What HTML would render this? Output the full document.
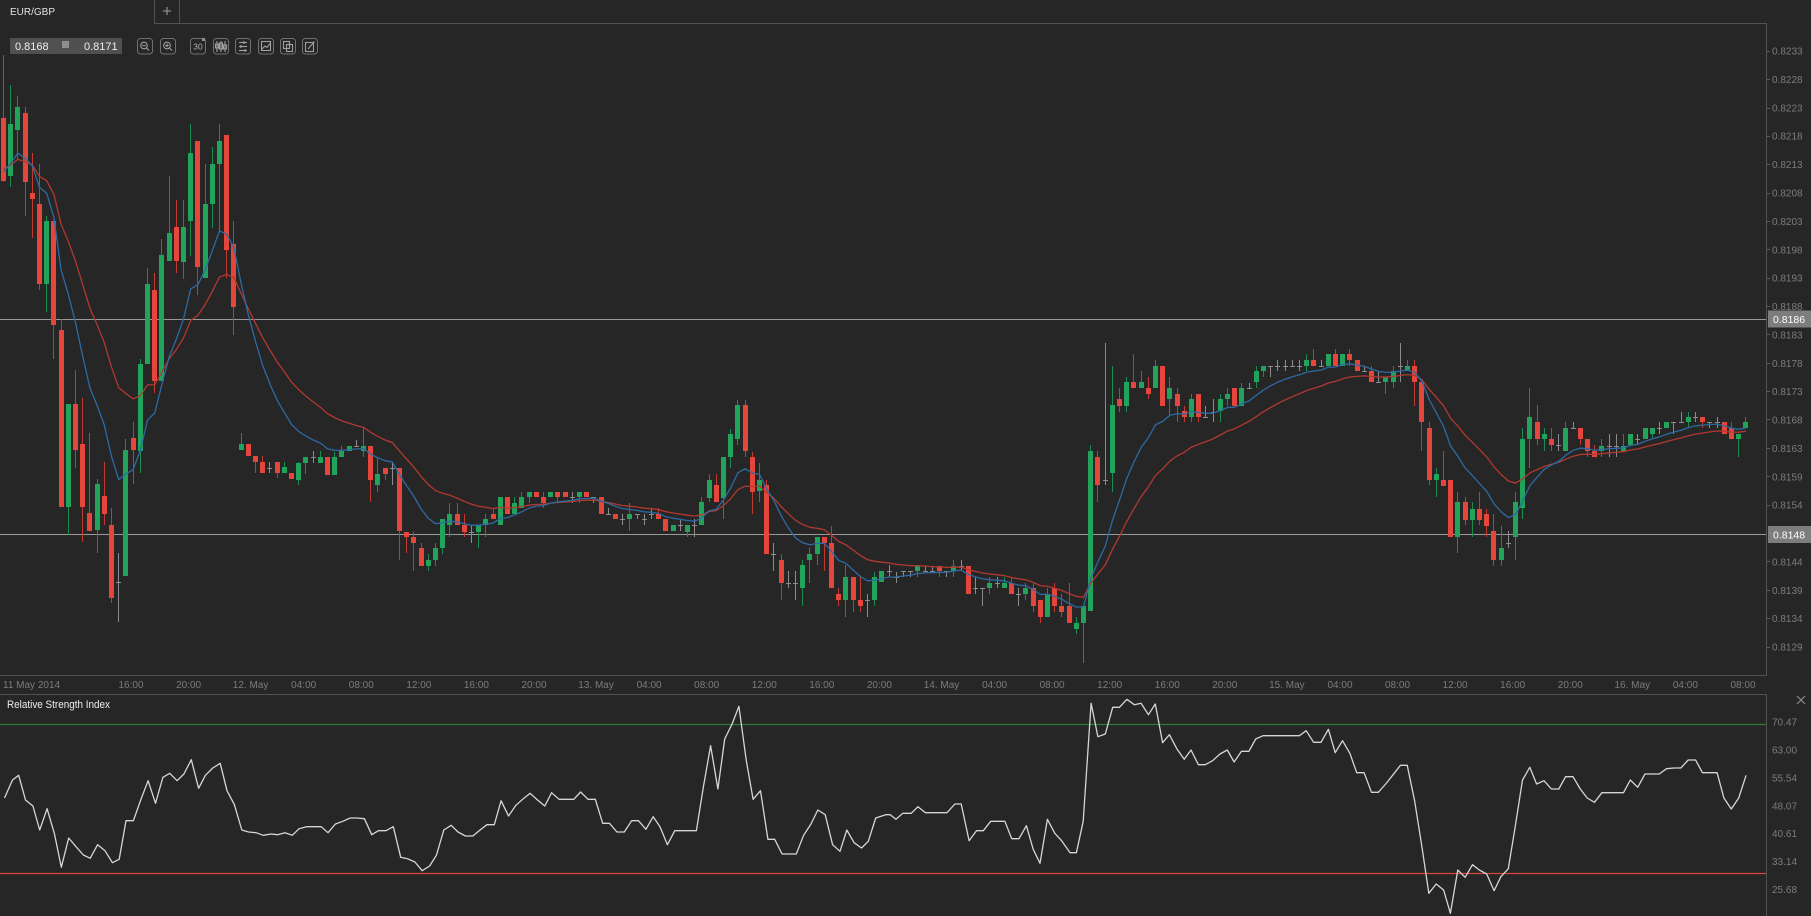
<!DOCTYPE html>
<html><head><meta charset="utf-8">
<style>
html,body{margin:0;padding:0;background:#262626;overflow:hidden;width:1811px;height:916px}
svg{display:block}
text{font-family:"Liberation Sans",Arial,sans-serif}
</style></head>
<body>
<svg id="s" width="1811" height="916" viewBox="0 0 1811 916" xmlns="http://www.w3.org/2000/svg">
<rect width="1811" height="916" fill="#262626"/>

<!-- tab bar -->
<text x="10" y="15" font-size="10" fill="#e2e2e2">EUR/GBP</text>
<line x1="154.5" y1="0" x2="154.5" y2="23" stroke="#525252"/>
<line x1="179.5" y1="0" x2="179.5" y2="23" stroke="#525252"/>
<line x1="163" y1="11" x2="171" y2="11" stroke="#8a8a8a" stroke-width="1.3"/>
<line x1="167" y1="7" x2="167" y2="15" stroke="#8a8a8a" stroke-width="1.3"/>

<!-- frames -->
<g stroke="#525252" stroke-width="1" shape-rendering="crispEdges">
<line x1="154" y1="23.5" x2="1767" y2="23.5"/>
<line x1="1766.5" y1="23" x2="1766.5" y2="676"/>
<line x1="0" y1="675.5" x2="1767" y2="675.5"/>
<line x1="0" y1="694.5" x2="1767" y2="694.5"/>
<line x1="1766.5" y1="694" x2="1766.5" y2="916"/>
</g>

<!-- horizontal price lines -->
<g stroke="#9a9a9a" stroke-width="1" shape-rendering="crispEdges">
<line x1="0" y1="319.5" x2="1766" y2="319.5"/>
<line x1="0" y1="534.5" x2="1766" y2="534.5"/>
</g>

<g id="gc" shape-rendering="crispEdges"></g>
<g id="ge" fill="none" stroke-width="1.3"></g>

<!-- price box -->
<rect x="10" y="38" width="112" height="16" fill="#505050"/>
<text x="15" y="50" font-size="11" fill="#eeeeee">0.8168</text>
<rect x="62" y="41" width="7" height="7" fill="#8e8e8e"/>
<text x="84" y="50" font-size="11" fill="#eeeeee">0.8171</text>

<!-- toolbar icons -->
<g fill="none" stroke="#707070" stroke-width="1">
<rect x="137.5" y="38.5" width="15" height="15.5" rx="3"/>
<rect x="160.5" y="38.5" width="15" height="15.5" rx="3"/>
<rect x="190.5" y="38.5" width="15" height="15.5" rx="3"/>
<rect x="213.5" y="38.5" width="15" height="15.5" rx="3"/>
<rect x="235.5" y="38.5" width="15" height="15.5" rx="3"/>
<rect x="258.5" y="38.5" width="15" height="15.5" rx="3"/>
<rect x="280.5" y="38.5" width="15" height="15.5" rx="3"/>
<rect x="302.5" y="38.5" width="15" height="15.5" rx="3"/>
</g>
<g fill="none" stroke="#a0a0a0" stroke-width="1.1">
<circle cx="144" cy="45.5" r="3.3"/><line x1="146.5" y1="48" x2="149" y2="50.5"/><line x1="142.3" y1="45.5" x2="145.7" y2="45.5"/>
<circle cx="167" cy="45.5" r="3.3"/><line x1="169.5" y1="48" x2="172" y2="50.5"/><line x1="165.3" y1="45.5" x2="168.7" y2="45.5"/><line x1="167" y1="43.8" x2="167" y2="47.2"/>
<line x1="217" y1="41" x2="217" y2="52"/><rect x="215.5" y="44" width="3" height="4"/>
<line x1="221" y1="41" x2="221" y2="52"/><rect x="219.5" y="43" width="3" height="6"/>
<line x1="225" y1="41" x2="225" y2="52"/><rect x="223.5" y="45" width="3" height="4"/>
<line x1="239" y1="42.5" x2="247" y2="42.5"/><line x1="239" y1="46.5" x2="247" y2="46.5"/><line x1="239" y1="50.5" x2="247" y2="50.5"/>
<line x1="244" y1="41" x2="244" y2="44"/><line x1="241" y1="45" x2="241" y2="48"/><line x1="245" y1="49" x2="245" y2="52"/>
<rect x="261.5" y="41.5" width="9" height="9"/><polyline points="262,49 265,46 267,47.5 270,43.5"/>
<rect x="283.5" y="41.5" width="6" height="7"/><rect x="286.5" y="44.5" width="6" height="7"/>
<rect x="305.5" y="42.5" width="8" height="9"/><line x1="308" y1="49" x2="314.5" y2="41.5"/>
</g>
<text x="198" y="49.5" font-size="8.5" fill="#b0b0b0" text-anchor="middle">30</text>
<rect x="202" y="38" width="3" height="3" fill="#909090"/>

<!-- price axis ticks -->
<g stroke="#5a5a5a" shape-rendering="crispEdges">
<line x1="1767" y1="51.5" x2="1770" y2="51.5"/><line x1="1767" y1="79.5" x2="1770" y2="79.5"/>
<line x1="1767" y1="108.5" x2="1770" y2="108.5"/><line x1="1767" y1="136.5" x2="1770" y2="136.5"/>
<line x1="1767" y1="164.5" x2="1770" y2="164.5"/><line x1="1767" y1="193.5" x2="1770" y2="193.5"/>
<line x1="1767" y1="221.5" x2="1770" y2="221.5"/><line x1="1767" y1="249.5" x2="1770" y2="249.5"/>
<line x1="1767" y1="278.5" x2="1770" y2="278.5"/><line x1="1767" y1="306.5" x2="1770" y2="306.5"/>
<line x1="1767" y1="334.5" x2="1770" y2="334.5"/><line x1="1767" y1="363.5" x2="1770" y2="363.5"/>
<line x1="1767" y1="391.5" x2="1770" y2="391.5"/><line x1="1767" y1="419.5" x2="1770" y2="419.5"/>
<line x1="1767" y1="448.5" x2="1770" y2="448.5"/><line x1="1767" y1="476.5" x2="1770" y2="476.5"/>
<line x1="1767" y1="505.5" x2="1770" y2="505.5"/><line x1="1767" y1="561.5" x2="1770" y2="561.5"/>
<line x1="1767" y1="590.5" x2="1770" y2="590.5"/><line x1="1767" y1="618.5" x2="1770" y2="618.5"/>
<line x1="1767" y1="647.5" x2="1770" y2="647.5"/>
</g>

<!-- price labels -->
<g font-size="10" fill="#7c7c7c">
<text x="1772" y="54.6">0.8233</text>
<text x="1772" y="83">0.8228</text>
<text x="1772" y="111.4">0.8223</text>
<text x="1772" y="139.7">0.8218</text>
<text x="1772" y="168.1">0.8213</text>
<text x="1772" y="196.5">0.8208</text>
<text x="1772" y="224.9">0.8203</text>
<text x="1772" y="253.3">0.8198</text>
<text x="1772" y="281.6">0.8193</text>
<text x="1772" y="310">0.8188</text>
<text x="1772" y="338.4">0.8183</text>
<text x="1772" y="366.8">0.8178</text>
<text x="1772" y="395.2">0.8173</text>
<text x="1772" y="423.5">0.8168</text>
<text x="1772" y="451.9">0.8163</text>
<text x="1772" y="480.3">0.8159</text>
<text x="1772" y="508.7">0.8154</text>
<text x="1772" y="537.1">0.8149</text>
<text x="1772" y="565.4">0.8144</text>
<text x="1772" y="593.8">0.8139</text>
<text x="1772" y="622.2">0.8134</text>
<text x="1772" y="650.6">0.8129</text>
</g>
<!-- badges -->
<rect x="1768" y="310.5" width="43" height="17" fill="#7d7d7d"/>
<text x="1773" y="323" font-size="10.5" fill="#ffffff">0.8186</text>
<rect x="1768" y="526" width="43" height="17" fill="#7d7d7d"/>
<text x="1773" y="538.5" font-size="10.5" fill="#ffffff">0.8148</text>

<!-- time axis -->
<g font-size="10" fill="#7c7c7c" text-anchor="middle">
<text x="3" y="688" text-anchor="start">11 May 2014</text>
<text x="131" y="688">16:00</text>
<text x="188.6" y="688">20:00</text>
<text x="250.6" y="688">12. May</text>
<text x="303.7" y="688">04:00</text>
<text x="361.3" y="688">08:00</text>
<text x="418.9" y="688">12:00</text>
<text x="476.4" y="688">16:00</text>
<text x="534" y="688">20:00</text>
<text x="596.1" y="688">13. May</text>
<text x="649.1" y="688">04:00</text>
<text x="706.7" y="688">08:00</text>
<text x="764.3" y="688">12:00</text>
<text x="821.8" y="688">16:00</text>
<text x="879.4" y="688">20:00</text>
<text x="941.5" y="688">14. May</text>
<text x="994.6" y="688">04:00</text>
<text x="1052.1" y="688">08:00</text>
<text x="1109.7" y="688">12:00</text>
<text x="1167.3" y="688">16:00</text>
<text x="1224.8" y="688">20:00</text>
<text x="1286.9" y="688">15. May</text>
<text x="1340" y="688">04:00</text>
<text x="1397.5" y="688">08:00</text>
<text x="1455.1" y="688">12:00</text>
<text x="1512.7" y="688">16:00</text>
<text x="1570.3" y="688">20:00</text>
<text x="1632.3" y="688">16. May</text>
<text x="1685.4" y="688">04:00</text>
<text x="1743" y="688">08:00</text>
</g>

<!-- RSI panel -->
<text x="7" y="708" font-size="11" fill="#eeeeee" textLength="103" lengthAdjust="spacingAndGlyphs">Relative Strength Index</text>
<line x1="0" y1="724.5" x2="1766" y2="724.5" stroke="#2f7a3a" stroke-width="1.2"/>
<line x1="0" y1="873.5" x2="1766" y2="873.5" stroke="#d6463a" stroke-width="1.2"/>
<g stroke="#8a8a8a" stroke-width="1.2">
<line x1="1797" y1="696" x2="1805" y2="704"/><line x1="1805" y1="696" x2="1797" y2="704"/>
</g>
<g font-size="10" fill="#7c7c7c">
<text x="1772" y="725.5">70.47</text>
<text x="1772" y="753.5">63.00</text>
<text x="1772" y="781.3">55.54</text>
<text x="1772" y="809.3">48.07</text>
<text x="1772" y="837">40.61</text>
<text x="1772" y="865">33.14</text>
<text x="1772" y="892.8">25.68</text>
</g>
<polyline id="rsi" fill="none" stroke="#d6d6d6" stroke-width="1.3" stroke-linejoin="round" points=""/>
</svg>
<script>
(function(){
var NS='http://www.w3.org/2000/svg';
var D=[118,181,55,182,176,124,85,187,130,107,96,160,113,182,107,216,193,199,153,238,204,284,164,290,284,221,216,312,221,325,221,359,330,507,319,507,507,404,404,535,
404,450,370,468,444,507,398,542,513,531,433,531,530,484,479,553,496,514,462,525,525,598,508,603,582,582,553,622,576,450,439,576,438,450,422,484,451,364,359,473,
364,284,268,364,290,381,273,393,381,255,239,381,261,233,176,261,227,261,200,273,262,227,200,279,221,153,124,256,141,267,141,295,278,204,164,278,204,164,147,228,
164,141,124,232,135,250,135,278,244,307,221,335,450,444,433,450,444,456,444,456,456,462,456,473,462,473,456,473,468,468,462,473,462,473,462,478,473,467,462,473,
473,479,473,479,480,463,462,485,463,457,457,474,457,457,451,463,463,457,451,463,457,475,457,475,475,457,452,475,457,451,446,457,451,446,446,451,446,446,440,446,
451,446,428,457,446,480,446,502,485,474,457,492,468,474,468,480,468,468,463,485,468,531,468,560,532,537,532,553,537,543,532,571,548,566,543,566,566,560,554,571,
560,548,543,566,548,519,519,554,525,514,503,537,514,525,503,525,525,532,514,537,532,532,525,543,532,525,525,548,525,519,514,537,514,519,508,519,525,497,497,525,
497,514,497,514,514,503,497,514,508,497,492,508,497,492,492,503,492,497,492,497,497,503,492,508,497,492,492,497,492,497,492,503,492,497,492,497,497,497,492,503,
497,492,492,503,492,497,492,497,497,497,497,503,497,514,497,514,514,514,508,514,514,519,514,519,519,519,514,525,519,514,503,531,514,514,514,519,519,519,514,525,
514,514,508,519,514,519,508,519,519,531,519,531,531,525,525,531,525,525,519,531,532,525,525,537,525,525,519,537,525,502,497,525,498,480,474,502,485,502,474,502,
498,457,457,519,457,434,429,468,439,405,400,445,405,451,400,457,457,492,452,514,491,480,463,502,485,554,480,554,554,554,543,571,560,583,554,600,583,583,571,588,
583,583,571,600,588,565,560,606,560,554,548,583,554,537,537,565,537,543,537,571,543,588,526,588,594,600,588,606,600,577,565,617,577,600,577,612,600,606,577,612,
600,600,594,617,600,577,572,606,582,571,571,582,571,571,565,577,577,577,572,583,571,571,571,577,571,571,571,577,571,566,566,577,571,571,566,571,571,571,566,571,
566,571,566,577,571,571,571,577,571,566,560,577,566,566,560,571,566,594,566,594,588,588,577,594,588,588,588,606,588,583,577,594,583,583,577,588,588,583,577,588,
583,594,577,594,594,594,588,606,594,588,583,600,588,606,583,612,600,617,600,623,617,594,588,617,588,606,583,612,606,612,594,617,606,623,583,623,629,623,617,634,
623,606,606,663,611,451,445,611,457,485,451,502,480,480,343,485,473,405,366,492,399,406,388,412,406,382,377,412,382,388,354,388,388,382,371,388,388,394,377,399,
388,366,360,388,366,406,366,406,399,388,377,415,394,406,388,422,411,417,406,422,417,399,394,422,394,417,394,422,417,417,406,417,412,412,399,422,411,399,394,422,
399,394,388,406,388,406,388,406,406,388,383,406,388,388,383,388,382,371,366,388,371,366,366,377,366,366,366,377,366,366,360,371,366,366,360,371,366,366,360,366,
366,366,360,371,366,360,354,371,360,366,349,366,366,366,360,366,366,354,354,366,354,366,349,366,366,354,354,366,354,360,349,366,360,371,360,371,371,371,366,371,
371,382,366,382,382,382,371,382,382,377,377,394,382,371,366,388,366,366,343,382,371,366,360,371,366,382,360,406,382,422,382,451,428,480,422,485,480,474,468,497,
480,486,451,486,480,537,480,537,537,502,492,553,502,520,497,525,520,509,502,537,509,520,492,525,514,526,509,537,531,560,514,566,560,548,526,566,543,543,531,548,
537,502,492,560,508,439,428,519,439,417,388,468,422,439,405,445,439,434,428,451,439,445,428,451,445,445,434,451,451,428,422,451,428,428,422,428,428,439,428,445,
439,451,439,457,451,457,445,457,451,446,439,457,446,446,434,457,446,446,434,457,451,446,434,451,445,434,434,445,439,439,434,445,439,428,428,439,434,428,428,439,
428,428,422,434,428,422,422,428,422,422,422,434,422,422,412,422,422,417,412,428,417,417,412,422,417,422,417,428,422,422,422,428,422,422,417,428,422,434,422,434,
428,439,422,439,439,434,434,457,428,422,417,428];
var gc=document.getElementById('gc'),ge=document.getElementById('ge');
function el(t,a,p){var e=document.createElementNS(NS,t);for(var k in a)e.setAttribute(k,a[k]);p.appendChild(e);return e;}
var b=170,r=168,pb=[],pr=[];
var n=D.length/4;
for(var i=0;i<n;i++){
 var o=D[4*i],c=D[4*i+1],h=D[4*i+2],l=D[4*i+3];
 var xf=3+7.2*i, x=Math.round(xf);
 var col,wc,doji=Math.abs(o-c)<1;
 if(doji){col='#8c8c8c';wc='#8c8c8c';}
 else if(c<o){col='#21a35b';wc='#1d8c4f';}
 else{col='#e5463b';wc='#c23b31';}
 el('rect',{x:x,y:h,width:1,height:Math.max(1,l-h),fill:wc},gc);
 if(doji) el('rect',{x:x-2,y:Math.round(o),width:5,height:1,fill:col},gc);
 else el('rect',{x:x-2,y:Math.min(o,c),width:5,height:Math.max(1,Math.abs(o-c)),fill:col},gc);
 b+=0.1818*(c-b); r+=0.0952*(c-r);
 pb.push((xf+0.5).toFixed(1)+','+b.toFixed(1));
 pr.push((xf+0.5).toFixed(1)+','+r.toFixed(1));
}
el('polyline',{points:pr.join(' '),stroke:'#b1392f'},ge);
el('polyline',{points:pb.join(' '),stroke:'#2d6aa3'},ge);
var Z11=[8,312,22,258,33,244,45,318,58,336,70,408,83,344,96,420,108,520,121,432,134,458,147,483,159,493,172,452,185,470,198,506,210,496,222,380,235,380,248,318,261,260,274,328,287,250,299,238,312,260,324,240,337,197,350,283,362,244,375,222,388,208,400,290,413,332,426,408,438,414,451,416,464,424,477,420,489,422,502,416,515,424,527,404,540,398,553,398,566,398,578,416,591,390,604,382,617,372,629,372,642,374,655,422,667,410,680,410,693,398,706,490,718,494,731,504,744,530,757,516,769,484,782,408,795,394,807,414,820,426,833,426,846,408,858,392,871,392,883,320,896,366,909,334,922,314,934,298,947,318,960,336,972,296,985,316,998,316,1011,316,1023,294,1036,316,1049,316,1062,388,1074,388,1087,414,1100,414,1113,380,1125,380,1138,406,1151,368,1163,398,1176,452,1189,410,1201,410,1214,410,1227,410,1239,282,1252,155,1265,285,1277,135,1290,90,1302,37,1315,200,1327,316,1340,290,1353,436,1365,436,1378,480,1391,480,1403,480,1416,424,1429,390,1441,348,1454,362,1467,452,1480,472,1492,408,1505,446,1518,462,1530,442,1543,372];
var Z12=[10,362,18,362,28,376,40,358,55,358,67,338,80,356,92,356,105,356,118,356,132,330,143,330,157,440,170,410,182,410,195,382,207,382,220,382,232,434,245,434,258,395,270,466,282,508,295,376,308,418,320,440,335,476,346,476,358,382,372,28,384,128,397,120,410,40,422,40,435,16,448,32,460,28,473,62,485,30,498,146,510,122,523,164,536,196,548,168,561,212,573,212,586,200,599,180,612,168,624,204,637,172,650,172,662,135,675,125,688,125,700,125,713,125,726,125,739,125,751,110,764,145,777,145,790,106,802,176,815,140,828,178,840,236,853,236,866,295,878,295,891,270,904,242,917,214,929,214,942,320,955,460,967,598,980,570,993,588,1005,658,1018,528,1031,550,1044,512,1056,528,1069,540,1082,590,1094,548,1107,524,1119,400,1132,258,1145,220,1157,270,1170,260,1183,285,1196,285,1208,248,1221,248,1234,285,1246,312,1259,325,1272,296,1284,296,1297,296,1310,296,1322,258,1335,280,1348,240,1360,240,1373,240,1386,224,1399,222,1411,222,1424,198,1437,198,1449,236,1462,236,1475,236,1487,312,1500,345,1513,312,1526,244];
var pts=[],k;
for(k=0;k<Z11.length;k+=2)pts.push((Z11[k]/1.762).toFixed(1)+','+(694+Z11[k+1]/3).toFixed(1));
for(k=0;k<Z12.length;k+=2)pts.push((880+Z12[k]/1.762).toFixed(1)+','+(694+Z12[k+1]/3).toFixed(1));
document.getElementById('rsi').setAttribute('points',pts.join(' '));
})();
</script>
</body></html>
